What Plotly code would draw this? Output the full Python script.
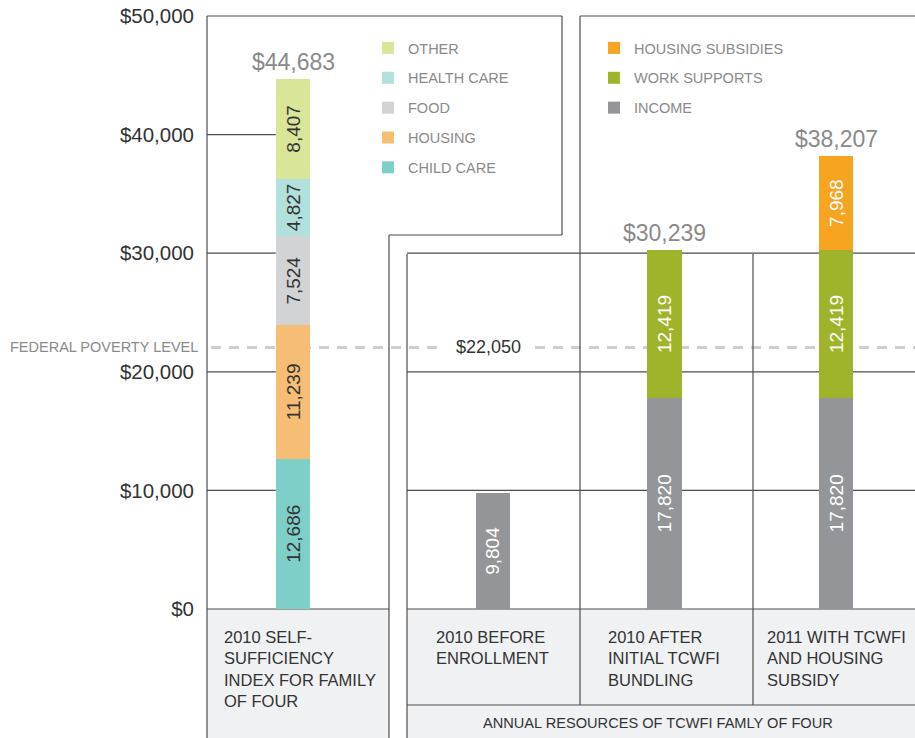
import plotly.graph_objects as go

# ---------------- data ----------------
ssi_category = ["2010 SELF-<br>SUFFICIENCY<br>INDEX FOR FAMILY<br>OF FOUR"]
ssi_names = ["CHILD CARE", "HOUSING", "FOOD", "HEALTH CARE", "OTHER"]          # bottom -> top
ssi_values = [12686, 11239, 7524, 4827, 8407]
ssi_colors = ["#7fcfc9", "#f6be74", "#d2d3d5", "#b2e0dc", "#d9e69a"]

res_categories = ["2010 BEFORE<br>ENROLLMENT",
                  "2010 AFTER<br>INITIAL TCWFI<br>BUNDLING",
                  "2011 WITH TCWFI<br>AND HOUSING<br>SUBSIDY"]
res_names = ["INCOME", "WORK SUPPORTS", "HOUSING SUBSIDIES"]                   # bottom -> top
income = [9804, 17820, 17820]
work_supports = [None, 12419, 12419]
housing_subsidies = [None, None, 7968]
res_series = [income, work_supports, housing_subsidies]
res_colors = ["#939598", "#a0b42b", "#f7a521"]

poverty_level = 22050
y_ticks = [0, 10000, 20000, 30000, 40000, 50000]
y_ticktext = ["$0", "$10,000", "$20,000", "$30,000", "$40,000", "$50,000"]

# ---------------- layout helpers ----------------
W, H = 915, 738
FONT = "Liberation Sans, Arial, sans-serif"
DARK = "#333333"
GREY_TXT = "#8a8a8a"
LINE = dict(color="#4d4d4d", width=1.2)
BAR_W = 0.2

Y0_PX, Y50_PX = 609, 16
vpp = 50000 / (Y0_PX - Y50_PX)
y_range = [-(H - Y0_PX) * vpp, Y0_PX * vpp]


def px(x):
    return x / W


def py(y):
    return 1 - y / H


fig = go.Figure()

# left panel: self-sufficiency budget
for i, (name, val, col) in enumerate(zip(ssi_names, ssi_values, ssi_colors)):
    fig.add_trace(go.Bar(
        x=ssi_category, y=[val], name=name, marker=dict(color=col, line=dict(width=0)),
        width=BAR_W, xaxis="x", yaxis="y",
        texttemplate="%{y:,}", textposition="inside", insidetextanchor="middle",
        textangle=-90, textfont=dict(color=DARK, size=19, family=FONT),
        legend="legend", legendgroup=name, legendrank=len(ssi_names) - i,
        hoverinfo="skip",
    ))

# right panel: annual resources
for i, (name, vals, col) in enumerate(zip(res_names, res_series, res_colors)):
    fig.add_trace(go.Bar(
        x=res_categories, y=vals, name=name, marker=dict(color=col, line=dict(width=0)),
        width=BAR_W, xaxis="x2", yaxis="y",
        texttemplate="%{y:,}", textposition="inside", insidetextanchor="middle",
        textangle=-90, textfont=dict(color="white", size=19, family=FONT),
        legend="legend2", legendgroup=name, legendrank=len(res_names) - i,
        hoverinfo="skip",
    ))

annotations = []
# totals
ssi_total = sum(ssi_values)
annotations.append(dict(x=ssi_category[0], y=ssi_total, xref="x", yref="y", text=f"${ssi_total:,}",
                        showarrow=False, yanchor="bottom", yshift=2,
                        font=dict(size=23, color=GREY_TXT, family=FONT)))
for j, cat in enumerate(res_categories):
    parts = [s[j] for s in res_series if s[j] is not None]
    if len(parts) > 1:
        tot = sum(parts)
        annotations.append(dict(x=cat, y=tot, xref="x2", yref="y", text=f"${tot:,}",
                                showarrow=False, yanchor="bottom", yshift=2,
                                font=dict(size=23, color=GREY_TXT, family=FONT)))

# category labels
annotations.append(dict(x=ssi_category[0], xref="x", y=py(626), yref="paper", text=ssi_category[0],
                        showarrow=False, xanchor="center", yanchor="top", align="left", xshift=7,
                        font=dict(size=16.5, color=DARK, family=FONT)))
for cat in res_categories:
    annotations.append(dict(x=cat, xref="x2", y=py(626), yref="paper", text=cat,
                            showarrow=False, xanchor="center", yanchor="top", align="left",
                            font=dict(size=16.5, color=DARK, family=FONT)))
annotations.append(dict(x=px(658), xref="paper", y=py(723), yref="paper",
                        text="ANNUAL RESOURCES OF TCWFI FAMLY OF FOUR",
                        showarrow=False, xanchor="center", yanchor="middle",
                        font=dict(size=14.6, color=DARK, family=FONT)))

# poverty level
annotations.append(dict(x=px(200), xref="paper", y=poverty_level, yref="y",
                        text="FEDERAL POVERTY LEVEL", showarrow=False, xanchor="right", yanchor="middle",
                        font=dict(size=14.5, color=GREY_TXT, family=FONT)))
annotations.append(dict(x=res_categories[0], xref="x2", y=poverty_level, yref="y",
                        text=f"${poverty_level:,}", showarrow=False, xanchor="center", yanchor="middle",
                        xshift=-4, bgcolor="white", borderpad=12,
                        font=dict(size=18, color=DARK, family=FONT)))

shapes = []
# grey label boxes
for x0, x1 in [(207, 389), (407, 915)]:
    shapes.append(dict(type="rect", xref="paper", yref="paper", x0=px(x0), x1=px(x1),
                       y0=0, y1=py(Y0_PX), fillcolor="#f0f1f2", line=dict(width=0), layer="below"))

# poverty dashed line
shapes.append(dict(type="line", xref="paper", yref="y", x0=px(211), x1=1, y0=poverty_level, y1=poverty_level,
                   line=dict(color="#cfcfcf", width=3, dash="10px,8px"), layer="below"))

# gridlines (right panel spans, left panel only up to the bar)
for v in [0, 10000, 20000, 30000]:
    shapes.append(dict(type="line", xref="paper", yref="y", x0=px(407), x1=1, y0=v, y1=v,
                       line=LINE, layer="below"))
for v in [10000, 20000, 30000, 40000]:
    shapes.append(dict(type="line", xref="x", yref="y", x0=-0.5, x1=-BAR_W / 2, y0=v, y1=v,
                       line=LINE, layer="below"))
shapes.append(dict(type="line", xref="paper", yref="y", x0=px(207), x1=px(389), y0=0, y1=0,
                   line=LINE, layer="below"))

# panel frames
segs = [
    (207, 16, 207, 738), (207, 16, 562, 16), (562, 16, 562, 235), (562, 235, 389, 235), (389, 235, 389, 738),
    (580, 16, 580, 705), (580, 16, 915, 16),
    (407, 254, 407, 738), (753, 254, 753, 705), (407, 705, 915, 705),
]
for x0, y0, x1, y1 in segs:
    shapes.append(dict(type="line", xref="paper", yref="paper", x0=px(x0), x1=px(x1), y0=py(y0), y1=py(y1),
                       line=LINE, layer="below"))

legend_common = dict(xanchor="left", yanchor="top", bgcolor="rgba(0,0,0,0)",
                     font=dict(size=14.5, color=GREY_TXT, family=FONT),
                     tracegroupgap=8, traceorder="grouped", itemclick=False, itemdoubleclick=False)

fig.update_layout(
    width=W, height=H,
    margin=dict(l=0, r=0, t=0, b=0),
    paper_bgcolor="white", plot_bgcolor="white",
    barmode="stack",
    font=dict(family=FONT, color=DARK),
    showlegend=True,
    legend=dict(x=px(368), y=py(32), **legend_common),
    legend2=dict(x=px(594), y=py(32), **legend_common),
    xaxis=dict(domain=[px(207), px(379)], range=[-0.5, 0.5], type="category",
               showticklabels=False, showgrid=False, zeroline=False, showline=False, fixedrange=True),
    xaxis2=dict(domain=[px(407), 1], range=[-0.5, 2.46], type="category", anchor="y",
                showticklabels=False, showgrid=False, zeroline=False, showline=False, fixedrange=True),
    yaxis=dict(range=y_range, anchor="x", tickvals=y_ticks, ticktext=y_ticktext,
               showgrid=False, zeroline=False, showline=False, ticks="", ticklabelstandoff=12,
               tickfont=dict(size=20.5, color=DARK, family=FONT), fixedrange=True),
    uniformtext=dict(minsize=17, mode="show"),
    annotations=annotations,
    shapes=shapes,
)

fig.write_html("out.html", config={"displayModeBar": False},
               post_script="document.body.style.margin='0';document.body.style.overflow='hidden';")
